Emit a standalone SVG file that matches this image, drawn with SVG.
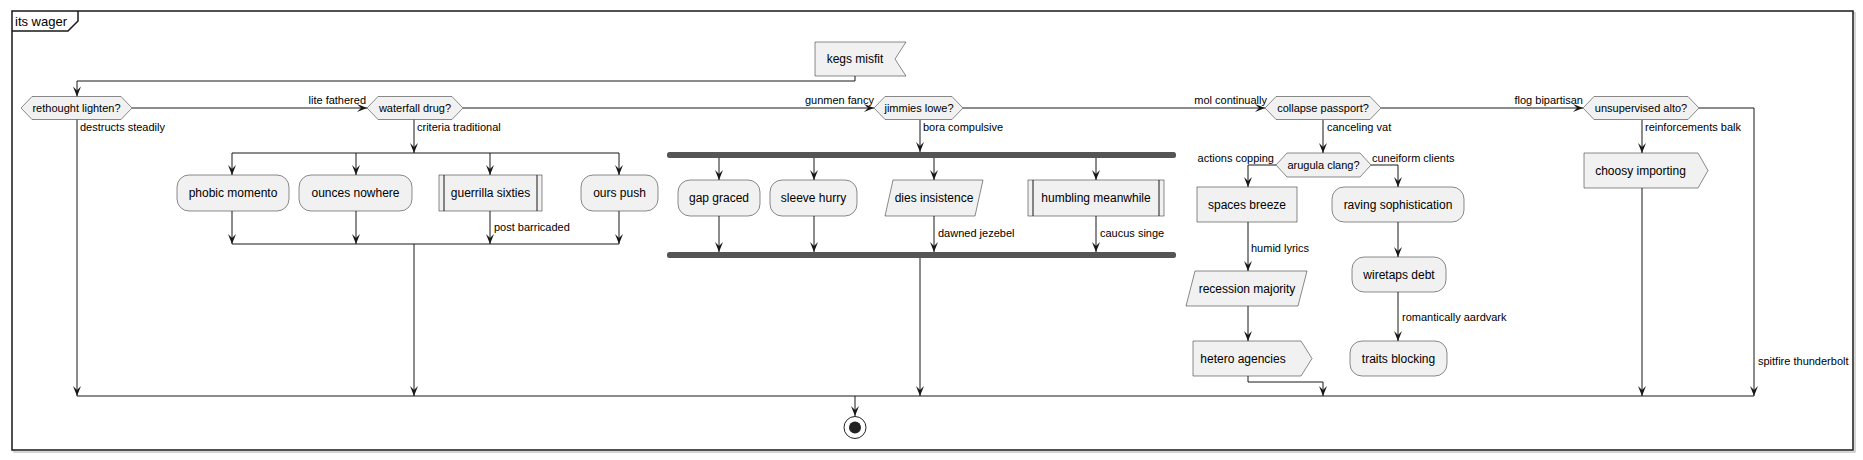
<svg xmlns="http://www.w3.org/2000/svg" width="1863" height="460" viewBox="0 0 1863 460">
<style>
text{font-family:"Liberation Sans",Arial,sans-serif;fill:#000}
.n{fill:#F1F1F1;stroke:#181818;stroke-width:0.5}
.t{font-size:12px;text-anchor:middle}
.d{font-size:11px;text-anchor:middle}
.l{font-size:11px}
.le{font-size:11px;text-anchor:end}
.c{fill:none;stroke:#181818;stroke-width:1}
.a{marker-end:url(#ah)}
.bar{fill:#555555;stroke:none}
</style>
<defs>
<marker id="ah" viewBox="-11 -5 12 10" refX="0" refY="0" markerWidth="12" markerHeight="10" markerUnits="userSpaceOnUse" orient="auto"><path d="M0,0 L-10,-4 L-6,0 L-10,4 Z" fill="#181818"/></marker>
</defs>
<g id="frame">
<rect x="14" y="13" width="1841" height="439" fill="none" stroke="#c8c8c8" stroke-width="1.5"/>
<rect x="12" y="11" width="1841" height="439" fill="#fff" stroke="#181818" stroke-width="1.5"/>
<path d="M12,31 H68 L78,21 V11" fill="none" stroke="#181818" stroke-width="1.5"/>
<text x="15" y="26" style="font-size:13px">its wager</text>
</g>
<g id="connectors">
<path class="c a" d="M855,76 V81 H77 V96.5"/>
<path class="c a" d="M132,108 H367"/>
<path class="c a" d="M463,108 H874"/>
<path class="c a" d="M963,108 H1265"/>
<path class="c a" d="M1381,108 H1583"/>
<path class="c a" d="M77,119.5 V396"/>
<path class="c a" d="M414,119.5 V153"/>
<path class="c" d="M232,153 H619" stroke-width="1.6"/>
<path class="c a" d="M232,153 V175"/>
<path class="c a" d="M356,153 V175"/>
<path class="c a" d="M490,153 V175"/>
<path class="c a" d="M619,153 V175"/>
<path class="c a" d="M232,211 V244"/>
<path class="c a" d="M356,211 V244"/>
<path class="c a" d="M490,211 V244"/>
<path class="c a" d="M619,211 V244"/>
<path class="c" d="M232,244 H619" stroke-width="1.6"/>
<path class="c a" d="M414,244 V396"/>
<path class="c a" d="M920,120 V152"/>
<rect class="bar" x="667" y="152" width="509" height="6" rx="2.5"/>
<path class="c a" d="M719,158 V180"/>
<path class="c a" d="M814,158 V180"/>
<path class="c a" d="M934,158 V180"/>
<path class="c a" d="M1096,158 V180"/>
<path class="c a" d="M719,216 V252"/>
<path class="c a" d="M814,216 V252"/>
<path class="c a" d="M934,216 V252"/>
<path class="c a" d="M1096,216 V252"/>
<rect class="bar" x="667" y="252" width="509" height="6" rx="2.5"/>
<path class="c a" d="M920,258 V396"/>
<path class="c a" d="M1323,120 V153"/>
<path class="c a" d="M1276,165 H1248 V187"/>
<path class="c a" d="M1371,165 H1398 V187"/>
<path class="c a" d="M1248,222 V271"/>
<path class="c a" d="M1248,306 V341"/>
<path class="c a" d="M1248,376 V382 H1323 V396"/>
<path class="c a" d="M1398,222 V257"/>
<path class="c a" d="M1398,292 V341"/>
<path class="c a" d="M1642,120 V153"/>
<path class="c a" d="M1642,188 V396"/>
<path class="c a" d="M1699,108 H1754 V396"/>
<path class="c" d="M77,396 H1754"/>
<path class="c a" d="M855,396 V416"/>
<text class="l" x="80" y="131">destructs steadily</text>
<text class="le" x="366" y="104">lite fathered</text>
<text class="l" x="417" y="131">criteria traditional</text>
<text class="l" x="494" y="231">post barricaded</text>
<text class="le" x="874" y="104">gunmen fancy</text>
<text class="l" x="923" y="131">bora compulsive</text>
<text class="l" x="938" y="237">dawned jezebel</text>
<text class="l" x="1100" y="237">caucus singe</text>
<text class="le" x="1267" y="104">mol continually</text>
<text class="l" x="1327" y="131">canceling vat</text>
<text class="le" x="1274" y="162">actions copping</text>
<text class="l" x="1372" y="162">cuneiform clients</text>
<text class="l" x="1251" y="252">humid lyrics</text>
<text class="l" x="1402" y="321">romantically aardvark</text>
<text class="le" x="1583" y="104">flog bipartisan</text>
<text class="l" x="1645" y="131">reinforcements balk</text>
<text class="l" x="1758" y="365">spitfire thunderbolt</text>
</g>
<g id="kegs-misfit"><path class="n" d="M815,42 H906 L895,59 L906,76 H815 Z"/><text class="t" x="855" y="63">kegs misfit</text></g>
<g id="rethought-lighten"><path class="n" d="M21,108 L32,96.5 H121 L132,108 L121,119.5 H32 Z"/><text class="d" x="76.5" y="112">rethought lighten?</text></g>
<g id="waterfall-drug"><path class="n" d="M367,108 L378,96.5 H452 L463,108 L452,119.5 H378 Z"/><text class="d" x="415" y="112">waterfall drug?</text></g>
<g id="phobic-momento"><rect class="n" x="177" y="175" width="112" height="36" rx="12"/><text class="t" x="233" y="197">phobic momento</text></g>
<g id="ounces-nowhere"><rect class="n" x="299" y="175" width="113" height="36" rx="12"/><text class="t" x="355.5" y="197">ounces nowhere</text></g>
<g id="guerrilla-sixties"><rect class="n" x="439" y="175" width="103" height="36"/><path class="c" d="M444,175 V211 M537,175 V211" stroke-width="0.5"/><text class="t" x="490.5" y="197">guerrilla sixties</text></g>
<g id="ours-push"><rect class="n" x="581" y="175" width="77" height="36" rx="12"/><text class="t" x="619.5" y="197">ours push</text></g>
<g id="jimmies-lowe"><path class="n" d="M874,108 L885,96.5 H952 L963,108 L952,119.5 H885 Z"/><text class="d" x="919" y="112">jimmies lowe?</text></g>
<g id="gap-graced"><rect class="n" x="678" y="180" width="82" height="36" rx="12"/><text class="t" x="719" y="202">gap graced</text></g>
<g id="sleeve-hurry"><rect class="n" x="770" y="180" width="87" height="36" rx="12"/><text class="t" x="813.5" y="202">sleeve hurry</text></g>
<g id="dies-insistence"><path class="n" d="M893,180 H983 L975,216 H885 Z"/><text class="t" x="934" y="202">dies insistence</text></g>
<g id="humbling-meanwhile"><rect class="n" x="1028" y="180" width="136" height="36"/><path class="c" d="M1033,180 V216 M1159,180 V216" stroke-width="0.5"/><text class="t" x="1096" y="202">humbling meanwhile</text></g>
<g id="collapse-passport"><path class="n" d="M1265,108 L1276,96.5 H1370 L1381,108 L1370,119.5 H1276 Z"/><text class="d" x="1323" y="112">collapse passport?</text></g>
<g id="arugula-clang"><path class="n" d="M1276,165 L1287,153 H1360 L1371,165 L1360,177 H1287 Z"/><text class="d" x="1323.5" y="169">arugula clang?</text></g>
<g id="spaces-breeze"><rect class="n" x="1197" y="187" width="100" height="35"/><text class="t" x="1247" y="209">spaces breeze</text></g>
<g id="recession-majority"><path class="n" d="M1195,271 H1307 L1298,306 H1186 Z"/><text class="t" x="1247" y="293">recession majority</text></g>
<g id="hetero-agencies"><path class="n" d="M1193,341 H1301 L1312,358.5 L1301,376 H1193 Z"/><text class="t" x="1243" y="363">hetero agencies</text></g>
<g id="raving-sophistication"><rect class="n" x="1332" y="187" width="132" height="35" rx="12"/><text class="t" x="1398" y="209">raving sophistication</text></g>
<g id="wiretaps-debt"><rect class="n" x="1352" y="257" width="94" height="35" rx="12"/><text class="t" x="1399" y="279">wiretaps debt</text></g>
<g id="traits-blocking"><rect class="n" x="1350" y="341" width="97" height="35" rx="12"/><text class="t" x="1398.5" y="363">traits blocking</text></g>
<g id="unsupervised-alto"><path class="n" d="M1583,108 L1594,96.5 H1688 L1699,108 L1688,119.5 H1594 Z"/><text class="d" x="1641" y="112">unsupervised alto?</text></g>
<g id="choosy-importing"><path class="n" d="M1584,153 H1698 L1708,170.5 L1698,188 H1584 Z"/><text class="t" x="1640.5" y="175">choosy importing</text></g>
<g id="end"><circle cx="855" cy="427.5" r="11" fill="none" stroke="#222" stroke-width="1"/><circle cx="855" cy="427.5" r="6" fill="#222"/></g>
</svg>
